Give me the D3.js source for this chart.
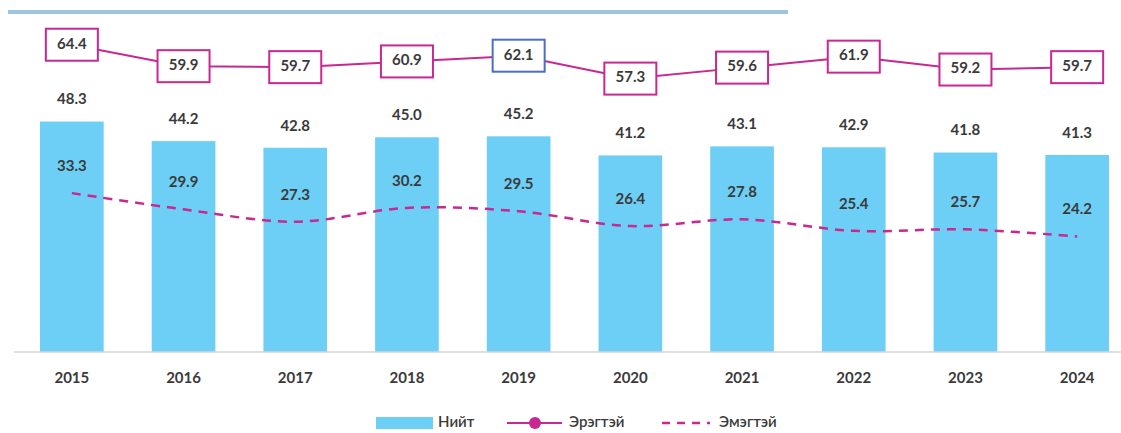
<!DOCTYPE html>
<html>
<head>
<meta charset="utf-8">
<script src="https://cdn.jsdelivr.net/npm/d3@7"></script>
<style>
  body { margin: 0; background: #fff; }
  text { font-family: Lato, "Open Sans", sans-serif; }
</style>
</head>
<body>
<svg id="chart" width="1121" height="433"></svg>
<script>
const years = ['2015', '2016', '2017', '2018', '2019', '2020', '2021', '2022', '2023', '2024'];
const total = [48.3, 44.2, 42.8, 45.0, 45.2, 41.2, 43.1, 42.9, 41.8, 41.3];
const male = [64.4, 59.9, 59.7, 60.9, 62.1, 57.3, 59.6, 61.9, 59.2, 59.7];
const female = [33.3, 29.9, 27.3, 30.2, 29.5, 26.4, 27.8, 25.4, 25.7, 24.2];
const legendLabels = ['Нийт', 'Эрэгтэй', 'Эмэгтэй'];

const barColor = '#6dcff6';
const pink = '#c8288f';
const textColor = '#3a3a3a';

const svg = d3.select('#chart');

const x = d3.scaleBand()
  .domain(years)
  .range([16, 1133])
  .paddingInner(0.43)
  .paddingOuter(0.215);

const y = d3.scaleLinear()
  .domain([0, 70])
  .range([352, 18]);

const cx = d => x(d) + x.bandwidth() / 2;

// top rule
svg.append('line')
  .attr('x1', 8).attr('x2', 788)
  .attr('y1', 12).attr('y2', 12)
  .attr('stroke', '#9fc5de')
  .attr('stroke-width', 4);

// bars
svg.append('g')
  .selectAll('rect')
  .data(years)
  .enter()
  .append('rect')
  .attr('x', d => x(d))
  .attr('width', x.bandwidth())
  .attr('y', (d, i) => y(total[i]))
  .attr('height', (d, i) => y(0) - y(total[i]))
  .attr('fill', barColor);

// x axis
const xAxis = svg.append('g')
  .attr('transform', `translate(0,${y(0)})`)
  .call(d3.axisBottom(x).tickSize(0).tickPadding(20));
xAxis.select('.domain').remove();
xAxis.append('line')
  .attr('x1', 14).attr('x2', 1121)
  .attr('stroke', '#d4d4d4')
  .attr('stroke-width', 1.5);
xAxis.selectAll('text')
  .attr('font-family', 'Lato, sans-serif')
  .attr('font-size', 15)
  .attr('font-weight', 'bold')
  .attr('fill', textColor);

// total labels
svg.append('g')
  .selectAll('text')
  .data(years)
  .enter()
  .append('text')
  .attr('x', d => cx(d))
  .attr('y', (d, i) => y(total[i]) - 21)
  .attr('text-anchor', 'middle')
  .attr('dominant-baseline', 'middle')
  .attr('font-size', 15)
  .attr('font-weight', 'bold')
  .attr('fill', textColor)
  .text((d, i) => total[i].toFixed(1));

// female dashed curve
const femaleLine = d3.line()
  .x((d, i) => cx(years[i]))
  .y(d => y(d))
  .curve(d3.curveCatmullRom.alpha(0.5));

svg.append('path')
  .datum(female)
  .attr('d', femaleLine)
  .attr('fill', 'none')
  .attr('stroke', pink)
  .attr('stroke-width', 2.5)
  .attr('stroke-dasharray', '9,7');

svg.append('g')
  .selectAll('text')
  .data(female)
  .enter()
  .append('text')
  .attr('x', (d, i) => cx(years[i]))
  .attr('y', d => y(d) - 26)
  .attr('text-anchor', 'middle')
  .attr('dominant-baseline', 'middle')
  .attr('font-size', 15)
  .attr('font-weight', 'bold')
  .attr('fill', textColor)
  .text(d => d.toFixed(1));

// male line
const maleLine = d3.line()
  .x((d, i) => cx(years[i]))
  .y(d => y(d));

svg.append('path')
  .datum(male)
  .attr('d', maleLine)
  .attr('fill', 'none')
  .attr('stroke', pink)
  .attr('stroke-width', 2);

const maleLabels = svg.append('g')
  .selectAll('g')
  .data(male)
  .enter()
  .append('g')
  .attr('transform', (d, i) => `translate(${cx(years[i])},${y(d)})`);

maleLabels.append('rect')
  .attr('x', -26).attr('y', -16)
  .attr('width', 52).attr('height', 32)
  .attr('fill', '#fff')
  .attr('stroke', (d, i) => years[i] === '2019' ? '#4a6fbf' : pink)
  .attr('stroke-width', 2);

maleLabels.append('text')
  .attr('text-anchor', 'middle')
  .attr('dominant-baseline', 'middle')
  .attr('font-size', 15)
  .attr('font-weight', 'bold')
  .attr('fill', textColor)
  .text(d => d.toFixed(1));

// legend
const legend = svg.append('g').attr('transform', 'translate(0,423)');

const legendText = (xPos, label) => legend.append('text')
  .attr('x', xPos).attr('y', 0)
  .attr('dominant-baseline', 'middle')
  .attr('font-family', '"Open Sans", sans-serif')
  .attr('font-size', 15)
  .attr('font-weight', 600)
  .attr('fill', '#3a3a3a')
  .text(label);

legend.append('rect')
  .attr('x', 376).attr('y', -6)
  .attr('width', 57).attr('height', 12)
  .attr('fill', barColor);
legendText(438, legendLabels[0]);

legend.append('line')
  .attr('x1', 507).attr('x2', 562)
  .attr('stroke', pink).attr('stroke-width', 2);
legend.append('circle')
  .attr('cx', 535).attr('r', 6)
  .attr('fill', pink);
legendText(569, legendLabels[1]);

legend.append('line')
  .attr('x1', 662).attr('x2', 710)
  .attr('stroke', pink).attr('stroke-width', 2.5)
  .attr('stroke-dasharray', '8,7');
legendText(719, legendLabels[2]);
</script>
</body>
</html>
